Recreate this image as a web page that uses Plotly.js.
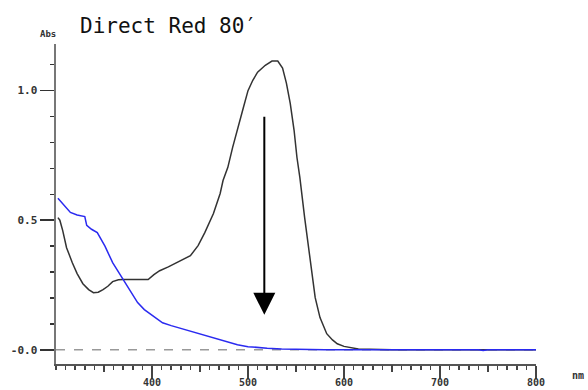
<!DOCTYPE html>
<html>
<head>
<meta charset="utf-8">
<script src="https://cdn.plot.ly/plotly-3.0.1.min.js"></script>
<style>html,body{margin:0;padding:0;background:#fff;}#chart{width:588px;height:390px;}</style>
</head>
<body>
<div id="chart"></div>
<script>
// Dark (initial) spectrum
const darkNm = [302, 304, 307, 311, 317, 322, 328, 334, 339, 344, 349, 354, 359, 365, 370, 380, 396, 402, 408, 417, 426, 433, 440, 448, 455, 464, 471, 474, 479, 484, 490, 495, 500, 505, 510, 518, 525, 531, 536, 540, 544, 548, 551, 554, 559, 565, 570, 575, 582, 588, 593, 600, 606, 615, 650, 700, 750, 800];
const darkAbs = [0.51, 0.50, 0.46, 0.394, 0.336, 0.294, 0.255, 0.232, 0.22, 0.222, 0.232, 0.245, 0.263, 0.27, 0.271, 0.271, 0.271, 0.29, 0.305, 0.32, 0.336, 0.348, 0.363, 0.402, 0.452, 0.526, 0.603, 0.653, 0.704, 0.781, 0.858, 0.932, 1.0, 1.04, 1.071, 1.098, 1.114, 1.114, 1.087, 1.029, 0.951, 0.847, 0.742, 0.665, 0.51, 0.333, 0.201, 0.124, 0.062, 0.038, 0.023, 0.013, 0.008, 0.003, 0.0, 0.0, 0.0, 0.0];
// Blue (treated) spectrum
const blueNm = [302, 304, 310, 315, 322, 330, 332, 337, 343, 351, 359, 369, 377, 385, 392, 398, 405, 411, 420, 432, 440, 450, 460, 468, 478, 489, 500, 510, 520, 535, 554, 580, 620, 680, 740, 745, 750, 800];
const blueAbs = [0.585, 0.576, 0.55, 0.53, 0.52, 0.514, 0.48, 0.465, 0.452, 0.40, 0.336, 0.275, 0.228, 0.182, 0.155, 0.139, 0.118, 0.104, 0.093, 0.08, 0.07, 0.06, 0.048, 0.039, 0.029, 0.019, 0.012, 0.008, 0.006, 0.003, 0.001, 0.0, 0.0, 0.0, 0.0, -0.003, 0.0, 0.0];
// Axis ticks
const xTickVals = [400, 500, 600, 700, 800];
const xTickText = ['400', '500', '600', '700', '800'];
const xMidTicks = [350, 450, 550, 650, 750];
const yTickVals = [0, 0.5, 1.0];
const yTickText = ['-0.0', '0.5', '1.0'];
// Arrow (nm, from Abs, to Abs)
const arrowNm = 517;
const arrowFrom = 0.905;
const arrowTo = 0.135;
const titleText = 'Direct Red 80′';

const mono = 'DejaVu Sans Mono, monospace';
const tickFont = {family: mono, size: 10, color: '#333', weight: 'bold'};

const traces = [
  {x: darkNm, y: darkAbs, type: 'scatter', mode: 'lines', line: {color: '#333333', width: 1.5}, hoverinfo: 'skip'},
  {x: blueNm, y: blueAbs, type: 'scatter', mode: 'lines', line: {color: '#2a2af0', width: 1.5}, hoverinfo: 'skip'},
  {x: [300], y: [null], xaxis: 'x2', yaxis: 'y', type: 'scatter', mode: 'lines', hoverinfo: 'skip'},
  {x: [300], y: [null], xaxis: 'x3', yaxis: 'y', type: 'scatter', mode: 'lines', hoverinfo: 'skip'}
];

const layout = {
  width: 588, height: 390,
  margin: {l: 56, r: 52, t: 44, b: 26},
  paper_bgcolor: '#fff', plot_bgcolor: '#fff',
  showlegend: false,
  title: {text: titleText, font: {family: mono, size: 21, color: '#111'}, x: 80/588, xanchor: 'left', y: 1 - 26/390, yanchor: 'middle'},
  xaxis: {
    range: [300, 800], showgrid: false, zeroline: false,
    showline: true, linecolor: '#555', linewidth: 2,
    tickmode: 'array', tickvals: xTickVals, showticklabels: false,
    ticks: 'outside', ticklen: 13, tickwidth: 1.5, tickcolor: '#444',
    minor: {dtick: 10, tick0: 300, ticks: 'outside', ticklen: 4, tickwidth: 1.5, tickcolor: '#444'}
  },
  xaxis2: {
    overlaying: 'x', anchor: 'y', side: 'bottom', range: [300, 800],
    showgrid: false, zeroline: false, showline: false, showticklabels: false,
    tickmode: 'array', tickvals: xMidTicks,
    ticks: 'outside', ticklen: 7, tickwidth: 1.5, tickcolor: '#444'
  },
  xaxis3: {
    overlaying: 'x', anchor: 'y', side: 'bottom', range: [300, 800],
    showgrid: false, zeroline: false, showline: false,
    tickmode: 'array', tickvals: xTickVals, ticktext: xTickText,
    ticks: 'outside', ticklen: 9, tickcolor: 'rgba(0,0,0,0)',
    tickfont: tickFont
  },
  yaxis: {
    range: [-0.055, 1.18], showgrid: false, zeroline: false,
    showline: true, linecolor: '#777', linewidth: 2.5,
    tickmode: 'array', tickvals: yTickVals, ticktext: yTickText,
    ticks: 'outside', ticklen: 14, tickwidth: 1.5, tickcolor: '#333',
    tickfont: {family: mono, size: 11, color: '#333', weight: 'bold'},
    minor: {dtick: 0.1, tick0: 0, ticks: 'outside', ticklen: 4, tickwidth: 1.5, tickcolor: '#333'}
  },
  shapes: [
    {type: 'line', xref: 'paper', x0: 0, x1: 1, yref: 'y', y0: 0, y1: 0, line: {color: '#999', width: 1.5, dash: 'dash'}, layer: 'below'}
  ],
  annotations: [
    {x: arrowNm, y: arrowTo, ax: arrowNm, ay: arrowFrom, xref: 'x', yref: 'y', axref: 'x', ayref: 'y', text: '', showarrow: true, arrowhead: 2, arrowsize: 2.2, arrowwidth: 2, arrowcolor: '#000'},
    {text: '<b>Abs</b>', xref: 'paper', yref: 'paper', x: 2/480, y: 1 + 10/320, xanchor: 'right', yanchor: 'middle', showarrow: false, font: {family: mono, size: 9, color: '#333'}},
    {text: '<b>nm</b>', xref: 'paper', yref: 'paper', x: 530/480, y: -11/320, xanchor: 'right', yanchor: 'middle', showarrow: false, font: {family: mono, size: 10, color: '#333'}}
  ]
};

Plotly.newPlot('chart', traces, layout, {staticPlot: true, displayModeBar: false});
</script>
</body>
</html>
